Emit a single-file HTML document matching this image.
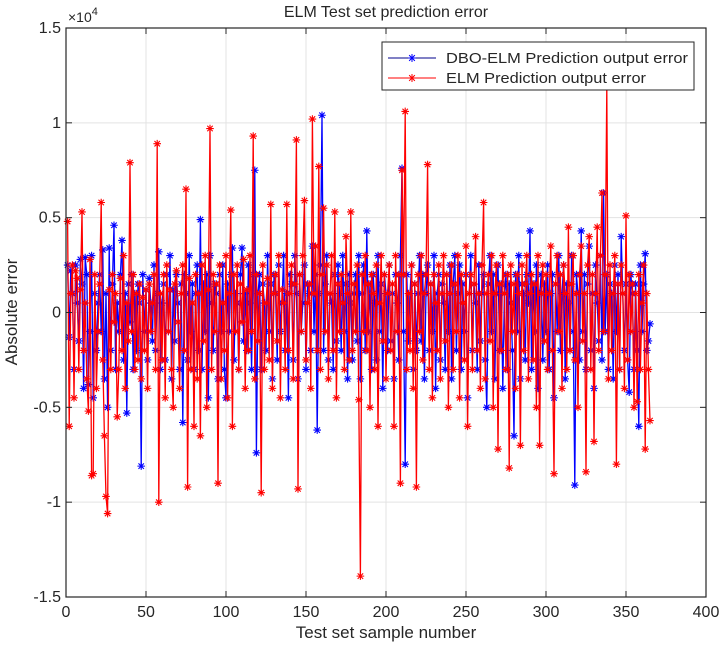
<!DOCTYPE html>
<html><head><meta charset="utf-8"><style>
body{margin:0;background:#fff}
svg text{font-family:"Liberation Sans",Arial,sans-serif;fill:#262626}
</style></head><body>
<svg id="chart" width="726" height="657" viewBox="0 0 726 657" xmlns="http://www.w3.org/2000/svg">
<rect width="726" height="657" fill="#fff"/>
<g id="grid"></g>
<g id="series"></g>
<rect x="66" y="28" width="640" height="569" fill="none" stroke="#262626" stroke-width="1.2"/>
<g id="ticks"></g>
<text x="386" y="17" font-size="16" text-anchor="middle">ELM Test set prediction error</text>
<text x="68" y="22" font-size="14">×10<tspan dy="-7" font-size="11">4</tspan></text>
<text x="386" y="638" font-size="17" text-anchor="middle">Test set sample number</text>
<text transform="translate(17,312) rotate(-90)" font-size="17" text-anchor="middle">Absolute error</text>
<g>
<rect x="382" y="42" width="312" height="48" fill="#fff" stroke="#262626" stroke-width="1"/>
<g>
<line x1="388" y1="58" x2="436" y2="58" stroke="#00008b" stroke-width="1"/>
<g id="lgm1"></g>
<text x="446" y="63" font-size="15" textLength="242" lengthAdjust="spacingAndGlyphs">DBO-ELM Prediction output error</text></g>
<g>
<line x1="388" y1="78" x2="436" y2="78" stroke="#ff0000" stroke-width="1"/>
<g id="lgm2"></g>
<text x="446" y="83" font-size="15" textLength="200" lengthAdjust="spacingAndGlyphs">ELM Prediction output error</text></g>
</g>
</svg>
<script>
const xTicks=[0,50,100,150,200,250,300,350,400];
const yTicks=[-1.5,-1,-0.5,0,0.5,1,1.5];
const yTickLabels=["-1.5","-1","-0.5","0","0.5","1","1.5"];
const dboErr=[0.25,-0.13,0.22,0.1,-0.3,0.25,0.05,-0.15,0.28,0.15,-0.4,0.29,0.2,-0.38,-0.1,0.3,-0.45,0.1,-0.2,0.05,
0.2,-0.1,0.33,-0.35,0.1,-0.5,0.34,-0.2,0.15,0.46,-0.3,0.05,-0.1,0.2,0.38,-0.25,0.1,-0.53,0.15,-0.05,
0.2,-0.3,0.1,-0.2,0.15,0.05,-0.81,0.2,-0.1,0.12,-0.25,0.18,0.05,-0.15,0.25,-0.2,0.1,0.32,-0.3,0.05,
0.15,-0.25,0.2,-0.1,0.3,-0.35,0.12,-0.15,0.2,0.05,-0.3,0.15,-0.58,0.2,0.1,-0.25,0.3,-0.1,0.15,-0.3,
0.1,0.25,-0.2,0.49,-0.3,0.15,-0.1,0.2,-0.45,0.3,0.05,-0.2,0.15,0.1,-0.35,0.2,-0.1,0.25,-0.3,-0.45,
0.15,-0.1,0.2,0.34,-0.25,0.1,0.05,-0.3,0.2,0.34,-0.15,0.1,-0.2,0.25,0.05,-0.3,0.2,0.75,-0.74,0.1,
0.2,-0.3,0.15,0.05,-0.2,0.3,-0.1,0.15,-0.35,0.2,0.1,-0.25,0.25,-0.1,0.05,0.3,-0.2,0.1,-0.45,0.2,
0.15,-0.25,0.3,0.1,-0.35,0.2,-0.1,0.05,0.25,-0.3,0.15,0.1,-0.2,0.35,-0.1,0.2,-0.62,0.1,0.25,1.04,
-0.2,0.15,0.3,-0.25,0.1,0.05,-0.3,0.2,-0.15,0.25,0.1,-0.2,0.3,-0.1,0.15,-0.35,0.2,0.05,-0.25,0.1,
0.2,-0.15,0.3,-0.35,0.1,0.25,-0.2,0.43,-0.1,0.15,-0.3,0.2,0.05,-0.25,0.3,-0.1,0.15,-0.4,0.2,0.1,
-0.2,0.25,-0.15,0.1,-0.35,0.2,0.05,-0.25,0.3,0.76,-0.1,-0.8,0.2,-0.15,0.1,0.25,-0.3,0.15,-0.2,0.1,
0.3,-0.15,0.2,-0.35,0.1,0.25,-0.2,0.15,-0.1,0.3,-0.4,0.1,0.2,-0.25,0.15,0.05,-0.3,0.2,-0.1,0.25,
-0.35,0.15,0.3,-0.2,0.1,0.25,-0.3,0.15,-0.1,0.2,-0.45,0.1,0.3,-0.2,0.15,0.05,-0.3,0.25,-0.15,0.1,
0.2,-0.25,-0.5,0.15,0.3,-0.1,0.2,-0.35,0.1,0.25,-0.2,0.15,-0.4,0.1,0.2,-0.3,0.15,0.05,-0.2,-0.65,
0.2,-0.1,0.3,-0.35,0.15,0.1,-0.25,0.2,0.05,0.43,-0.3,0.15,-0.1,0.25,-0.4,0.1,0.2,-0.25,0.15,-0.1,
0.25,-0.3,0.1,0.2,-0.45,0.15,-0.1,0.3,-0.2,0.1,0.25,-0.35,0.15,0.05,-0.2,0.3,-0.1,-0.91,0.2,0.1,
-0.25,0.43,-0.1,0.2,-0.3,0.15,0.35,-0.2,0.1,-0.4,0.25,0.05,-0.15,0.3,-0.25,0.63,-0.1,0.2,-0.3,0.15,
0.1,-0.35,0.25,-0.1,0.2,-0.3,0.4,0.1,-0.2,0.15,-0.25,-0.42,0.2,0.1,-0.3,0.15,-0.2,-0.6,0.25,-0.1,
0.15,0.31,-0.2,-0.15,-0.06];
const elmErr=[0.48,-0.6,0.1,0.25,-0.45,0.22,0.18,-0.3,0.12,0.53,-0.2,0.05,-0.35,-0.52,0.28,-0.86,-0.85,0.2,-0.4,-0.1,
0.15,0.58,-0.25,-0.65,-0.97,-1.06,0.12,-0.3,0.2,-0.05,0.1,-0.55,-0.3,0.18,-0.2,0.3,-0.4,0.05,-0.15,0.79,
-0.1,0.2,-0.3,0.1,-0.25,0.15,-0.35,0.08,-0.2,0.12,-0.4,0.15,-0.1,0.05,0.2,-0.3,0.89,-1.0,0.1,-0.25,
0.2,-0.45,0.25,-0.1,0.12,-0.3,-0.5,0.15,0.22,-0.05,-0.4,0.1,0.25,-0.2,0.65,-0.92,0.18,-0.3,0.05,-0.6,
0.2,-0.35,0.1,-0.65,0.25,-0.15,0.3,-0.5,0.12,0.97,-0.3,0.2,-0.1,0.15,-0.9,0.25,-0.35,0.05,-0.2,0.3,
-0.45,0.1,0.54,-0.6,0.2,-0.1,0.25,-0.3,0.15,-0.05,0.28,-0.4,0.12,-0.2,0.3,-0.1,0.93,-0.35,0.2,-0.15,
0.1,-0.95,0.25,-0.3,0.05,0.18,-0.25,0.57,-0.4,0.1,0.2,-0.15,0.3,-0.45,0.12,0.05,-0.3,0.57,-0.2,0.1,
0.25,-0.35,0.15,0.91,-0.93,0.2,-0.1,0.3,0.59,-0.25,0.05,0.15,-0.4,1.02,0.1,0.35,-0.2,0.77,-0.3,0.2,
0.55,-0.1,0.25,-0.35,0.1,0.3,-0.2,0.53,-0.45,0.15,-0.1,0.2,0.05,-0.3,0.4,0.1,-0.25,0.53,-0.2,0.15,
-0.1,0.25,-0.46,-1.39,0.2,-0.1,0.3,-0.2,0.15,-0.5,0.2,0.1,-0.3,0.25,-0.6,0.05,0.3,-0.15,0.2,-0.35,
0.1,0.25,-0.2,0.15,-0.6,0.3,-0.1,0.2,-0.9,0.75,0.2,1.06,-0.3,0.1,-0.2,0.25,-0.4,0.15,-0.92,0.2,
-0.1,0.3,-0.25,0.1,0.2,0.78,-0.3,0.15,-0.45,0.2,0.05,-0.2,0.25,-0.35,0.1,0.3,-0.15,0.2,-0.5,0.1,
0.25,-0.3,0.15,-0.1,0.3,-0.45,0.2,0.05,-0.25,0.35,-0.6,0.1,0.2,-0.3,0.15,0.4,-0.2,0.1,-0.4,0.25,
0.58,-0.35,0.1,0.2,-0.15,0.3,-0.5,0.1,0.25,-0.72,0.15,-0.2,0.3,0.1,-0.3,0.2,-0.82,0.25,-0.1,0.15,
-0.4,0.2,0.1,-0.7,0.25,-0.2,0.15,0.3,-0.35,0.1,0.2,-0.25,0.15,-0.5,0.3,-0.7,0.1,0.25,-0.15,0.2,
-0.3,0.1,0.35,-0.2,-0.85,0.15,0.3,-0.1,0.2,-0.4,0.25,0.1,-0.3,0.45,-0.2,0.15,0.3,-0.25,0.1,-0.5,
0.2,0.35,-0.15,0.1,-0.84,0.25,0.4,-0.3,0.2,-0.68,0.1,0.45,-0.2,0.3,0.63,-0.1,0.2,1.19,-0.35,0.25,
-0.2,0.1,0.3,-0.8,0.15,-0.3,0.25,0.1,-0.4,0.51,-0.25,0.2,-0.1,0.15,-0.5,0.1,-0.47,0.2,-0.3,0.05,
0.25,-0.72,0.1,-0.3,-0.57];

const NS="http://www.w3.org/2000/svg";
const L=66,R=706,T=28,B=597;
function xs(v){return L+(v-0)/(400-0)*(R-L);}
function ys(v){return B-(v+1.5)/3*(B-T);}
function mk(tag,attrs,parent){const e=document.createElementNS(NS,tag);for(const k in attrs)e.setAttribute(k,attrs[k]);parent.appendChild(e);return e;}
const grid=document.getElementById('grid'),ticks=document.getElementById('ticks'),series=document.getElementById('series');
xTicks.forEach(t=>{
  const x=xs(t);
  if(t>0&&t<400){const g=mk('line',{x1:x,y1:T,x2:x,y2:B,stroke:'#e3e3e3','stroke-width':1},grid);
  
  }
  mk('line',{x1:x,y1:B,x2:x,y2:B-6,stroke:'#262626'},ticks);
  mk('line',{x1:x,y1:T,x2:x,y2:T+6,stroke:'#262626'},ticks);
  const tx=mk('text',{x:x,y:B+20,'font-size':16,'text-anchor':'middle'},ticks);
  tx.textContent=t;
  
  
});
yTicks.forEach((t,i)=>{
  const y=ys(t);
  if(i>0&&i<yTicks.length-1){const g=mk('line',{x1:L,y1:y,x2:R,y2:y,stroke:'#e3e3e3','stroke-width':1},grid);
  
  }
  mk('line',{x1:L,y1:y,x2:L+6,y2:y,stroke:'#262626'},ticks);
  mk('line',{x1:R,y1:y,x2:R-6,y2:y,stroke:'#262626'},ticks);
  const tx=mk('text',{x:L-5,y:y+5,'font-size':16,'text-anchor':'end'},ticks);
  tx.textContent=yTickLabels[i];
  
  
});
function star(x,y,r){const d=r*0.72;return `M${x-r},${y}H${x+r}M${x},${y-r}V${y+r}M${x-d},${y-d}L${x+d},${y+d}M${x-d},${y+d}L${x+d},${y-d}`;}
function drawSeries(vals,color,name){
  const g=mk('g',{},series);
  
  
  const pts=vals.map((v,i)=>xs(i+1).toFixed(1)+','+ys(v).toFixed(1)).join(' ');
  const pl=mk('polyline',{points:pts,fill:'none',stroke:color,'stroke-width':1.3},g);
  
  
  let d='';vals.forEach((v,i)=>{d+=star(xs(i+1),ys(v),3.8);});
  const m=mk('path',{d:d,stroke:color,'stroke-width':1.1,fill:'none'},g);
  
  
}
drawSeries(dboErr,'#0000ff','dbo-elm-series');
drawSeries(elmErr,'#ff0000','elm-series');
mk('path',{d:star(412,58,4),stroke:'#0000ff',fill:'none'},document.getElementById('lgm1'));
mk('path',{d:star(412,78,4),stroke:'#ff0000',fill:'none'},document.getElementById('lgm2'));
</script>
</body></html>
